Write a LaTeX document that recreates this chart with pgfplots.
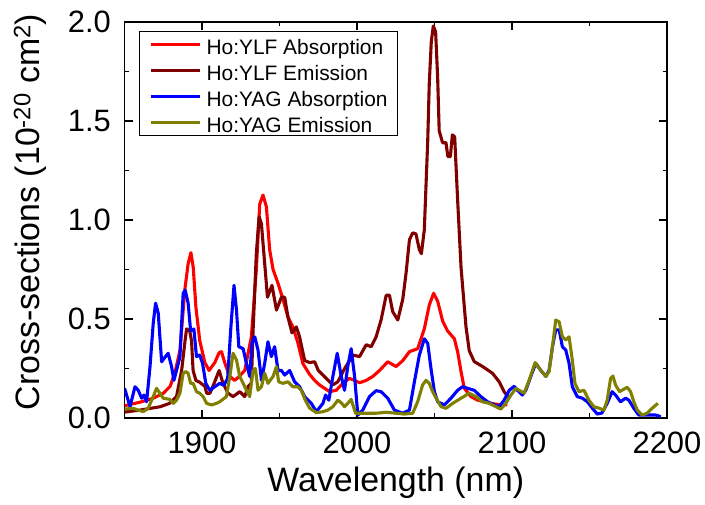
\documentclass[border=0pt]{standalone}
\usepackage{fontspec}
\setmainfont{Liberation Sans}
\usepackage{pgfplots}
\pgfplotsset{compat=1.18}
\definecolor{ylfabs}{RGB}{255,0,0}
\definecolor{ylfemi}{RGB}{128,0,0}
\definecolor{yagabs}{RGB}{0,0,255}
\definecolor{yagemi}{RGB}{128,128,0}
\begin{document}
\begin{tikzpicture}
\path[use as bounding box] (0,0) rectangle (705bp,505bp);
\begin{axis}[
  at={(124.6bp,87bp)}, anchor=south west,
  scale only axis, width=542.4bp, height=396bp,
  xmin=1850, xmax=2200, ymin=0, ymax=2.0,
  xtick={1900,2000,2100,2200}, minor x tick num=1,
  ytick={0,0.5,1,1.5,2}, minor y tick num=1,
  /pgf/number format/assume math mode=true,
  x tick label style={/pgf/number format/1000 sep={}, anchor=north, inner sep=0pt, yshift=-14bp},
  y tick label style={/pgf/number format/fixed, /pgf/number format/fixed zerofill, /pgf/number format/precision=1, anchor=east, inner sep=0pt, xshift=-13.5bp},
  tick label style={font=\fontsize{31}{37}\selectfont},
  xlabel={Wavelength (nm)},
  ylabel={Cross-sections (10\textsuperscript{-20} cm\textsuperscript{2})},
  xlabel style={font=\fontsize{34}{40}\selectfont, at={(axis description cs:0.5,-0.164)}, anchor=center},
  ylabel style={font=\fontsize{34}{40}\selectfont, at={(axis description cs:-0.1744,0.52)}, anchor=center},
  major tick length=8bp, minor tick length=4.5bp,
  axis line style={line width=1.2bp},
  every tick/.style={line width=1.2bp, black},
  legend cell align=left,
  legend image code/.code={\draw[#1] (0bp,0bp) -- (49bp,0bp);},
  legend style={at={(axis description cs:0.0266,0.977)}, anchor=north west,
    draw=black, line width=0.8bp, font=\fontsize{21}{25}\selectfont,
    inner xsep=10bp, inner ysep=3.5bp, row sep=7bp, column sep=5bp,
    nodes={inner sep=0pt, text height=19bp, text depth=0bp}},
  every axis plot/.append style={line width=3.1bp, line join=round},
]
\addplot[ylfabs] coordinates {
(1850,0.062)(1860,0.08)(1868.5,0.10)(1875,0.125)(1879.4,0.16)(1882.5,0.23)(1885.7,0.34)
(1888.9,0.65)(1891,0.78)(1892.8,0.835)(1894.3,0.76)(1896,0.56)(1898.5,0.39)(1901.8,0.28)
(1904.5,0.24)(1908.2,0.28)(1911,0.33)(1912.5,0.335)(1915,0.27)(1917.9,0.21)(1921,0.19)
(1924,0.21)(1927.5,0.24)(1931.8,0.41)(1935,0.75)(1937.2,1.08)(1939.3,1.126)(1941.5,1.067)
(1943.6,0.85)(1945.8,0.75)(1949,0.68)(1952.2,0.60)(1955.4,0.51)(1958.6,0.46)(1961.8,0.38)
(1965,0.276)(1969.4,0.22)(1972.6,0.19)(1975.8,0.167)(1982.3,0.133)(1986.6,0.14)(1990.8,0.175)
(1995.1,0.20)(1998.4,0.19)(2001.6,0.178)(2005.9,0.19)(2010.2,0.21)(2014.5,0.24)(2019.8,0.284)
(2025.2,0.26)(2029.5,0.29)(2033.8,0.335)(2039.1,0.35)(2043.4,0.45)(2046.6,0.57)(2049.4,0.63)
(2052,0.59)(2055.2,0.49)(2058.4,0.44)(2062.8,0.40)(2064.9,0.335)(2067.1,0.234)(2069.2,0.15)
(2073.5,0.108)(2077.8,0.09)(2086.4,0.074)(2092.8,0.066)(2097,0.066)
};
\addlegendentry{Ho:YLF Absorption}
\addplot[ylfemi] coordinates {
(1850,0.03)(1860,0.04)(1873,0.057)(1879,0.074)(1883.5,0.108)(1886.8,0.24)(1889,0.39)(1890,0.45)
(1892,0.44)(1893.2,0.39)(1894.2,0.24)(1896,0.19)(1898.5,0.18)(1901.8,0.16)(1903,0.125)(1905,0.125)
(1907,0.16)(1911,0.24)(1913.5,0.175)(1916.8,0.125)(1920,0.108)(1924.3,0.133)(1927.5,0.108)
(1929.7,0.16)(1931.8,0.175)(1932.9,0.44)(1935,0.83)(1936.8,1.017)(1938.3,0.98)(1940.4,0.78)
(1942.2,0.61)(1945.1,0.67)(1948,0.545)(1951.2,0.61)(1953.3,0.61)(1955.4,0.51)(1958,0.43)
(1960.8,0.46)(1962.9,0.41)(1966.2,0.29)(1969.4,0.28)(1972.6,0.284)(1975,0.24)(1980.1,0.20)
(1984.4,0.167)(1987.6,0.183)(1992,0.25)(1997.3,0.318)(2001.6,0.31)(2005.9,0.37)(2009.1,0.36)
(2012.3,0.41)(2015.5,0.495)(2018.8,0.62)(2020.9,0.62)(2023,0.537)(2026.3,0.495)(2029.5,0.6)
(2031.6,0.73)(2033.8,0.90)(2035.9,0.935)(2038,0.93)(2040.2,0.85)(2041.5,0.83)(2043.4,0.95)
(2045.6,1.40)(2046.6,1.69)(2047.9,1.90)(2049.2,1.98)(2050.7,1.95)(2052,1.72)(2053,1.45)
(2055.2,1.39)(2057.4,1.39)(2058.6,1.32)(2060.2,1.32)(2061.5,1.43)(2063,1.42)(2064.9,1.10)
(2067.1,0.76)(2070.3,0.46)(2072.4,0.34)(2075.6,0.285)(2081,0.26)(2087.4,0.226)(2091.7,0.183)
(2094.9,0.133)(2097.5,0.105)
};
\addlegendentry{Ho:YLF Emission}
\addplot[yagabs] coordinates {
(1850,0.15)(1853.5,0.057)(1856.7,0.158)(1858.8,0.14)(1861,0.10)(1862.5,0.116)(1864.2,0.082)
(1866.4,0.26)(1868.5,0.48)(1870,0.58)(1871.7,0.53)(1873.9,0.284)(1875.4,0.30)(1878.1,0.327)
(1880.3,0.26)(1881.8,0.19)(1883.5,0.24)(1885.7,0.31)(1887.8,0.63)(1889.1,0.646)(1891,0.58)
(1892.6,0.44)(1894.7,0.45)(1896.4,0.31)(1898.5,0.318)(1900.3,0.276)(1902.4,0.175)(1905,0.14)
(1908.2,0.158)(1911.4,0.175)(1914,0.165)(1916.5,0.20)(1918.5,0.45)(1920.6,0.67)(1922.2,0.545)
(1923.7,0.36)(1926.5,0.35)(1928.6,0.276)(1930.7,0.21)(1932.2,0.377)(1934,0.41)(1936.1,0.343)
(1938.3,0.19)(1940.4,0.276)(1942.5,0.385)(1944.7,0.31)(1946.8,0.36)(1949,0.24)(1951.2,0.24)
(1953.3,0.217)(1956.5,0.24)(1959.7,0.183)(1962.9,0.158)(1966.2,0.108)(1970.5,0.074)(1973.7,0.032)
(1978,0.074)(1979.7,0.116)(1981.8,0.09)(1984.4,0.21)(1987.2,0.327)(1989.8,0.21)(1991.9,0.14)
(1994,0.26)(1996.2,0.35)(1998.4,0.21)(2000.5,0.015)(2003.7,0.04)(2008,0.108)(2012.3,0.138)
(2015.5,0.133)(2019.8,0.10)(2024.1,0.04)(2029.5,0.024)(2033.8,0.04)(2037,0.183)(2040.2,0.318)
(2043.4,0.40)(2045.6,0.377)(2047.7,0.25)(2049.9,0.133)(2052,0.082)(2056.3,0.066)(2060.6,0.10)
(2064.9,0.14)(2068.1,0.158)(2071.3,0.15)(2075.6,0.14)(2079.9,0.108)(2084.2,0.082)(2088.5,0.066)
(2091.7,0.057)(2094.9,0.09)(2098.2,0.14)(2101.4,0.16)(2103.5,0.14)(2106.7,0.116)(2108.9,0.14)
(2112.1,0.21)(2115.3,0.276)(2118.6,0.24)(2121.8,0.21)(2123.9,0.24)(2126.1,0.36)(2128.2,0.445)
(2130.4,0.445)(2132.5,0.36)(2134.7,0.343)(2136.8,0.276)(2138.9,0.158)(2142.1,0.108)(2145.4,0.10)
(2148.6,0.082)(2151.8,0.05)(2155,0.02)(2158,0.025)(2161.4,0.074)(2164.6,0.133)(2166.8,0.116)
(2170,0.082)(2173.3,0.10)(2175.4,0.09)(2178.6,0.049)(2181.8,0.015)(2192.6,0.015)(2196,0.007)
};
\addlegendentry{Ho:YAG Absorption}
\addplot[yagemi] coordinates {
(1850,0.045)(1855.6,0.049)(1858.8,0.04)(1862,0.032)(1865.2,0.049)(1868.5,0.108)(1870.6,0.15)
(1872.8,0.125)(1874.9,0.10)(1879.2,0.094)(1881.4,0.074)(1883.5,0.09)(1885.7,0.125)(1887.8,0.226)
(1889.5,0.234)(1891,0.226)(1892.6,0.175)(1894.2,0.175)(1896.4,0.133)(1898.5,0.125)(1900.7,0.108)
(1902.9,0.074)(1906.1,0.066)(1909.3,0.074)(1911.4,0.082)(1915.7,0.108)(1917.9,0.21)(1920,0.327)
(1922.2,0.293)(1924.3,0.21)(1926.5,0.175)(1928.6,0.14)(1930.7,0.108)(1932.9,0.24)(1934.4,0.25)
(1936.1,0.14)(1938.3,0.158)(1940.4,0.226)(1942.5,0.175)(1945.8,0.21)(1948,0.26)(1949.4,0.183)
(1952.2,0.175)(1955.4,0.183)(1958.6,0.158)(1961.8,0.158)(1964,0.14)(1966.6,0.09)(1969.4,0.05)
(1973.7,0.027)(1978,0.032)(1981.2,0.04)(1984.4,0.057)(1987.6,0.09)(1989.8,0.077)(1991.9,0.057)
(1994,0.074)(1996.2,0.094)(1997.7,0.057)(1999,0.024)(2003.7,0.024)(2012.3,0.024)(2018.8,0.029)
(2025.2,0.024)(2030.5,0.02)(2035.9,0.024)(2039.1,0.082)(2042.3,0.167)(2044.5,0.19)(2046.6,0.175)
(2048.8,0.133)(2051,0.10)(2054.2,0.057)(2057.4,0.049)(2061.7,0.074)(2067.1,0.10)(2072.4,0.125)
(2076.7,0.108)(2081,0.082)(2085.3,0.074)(2089.6,0.057)(2092.8,0.045)(2096,0.074)(2099.3,0.116)
(2102.5,0.15)(2104.6,0.14)(2107.8,0.125)(2111,0.19)(2114.9,0.28)(2118.6,0.24)(2121.8,0.21)
(2123.9,0.234)(2126.1,0.36)(2128.2,0.495)(2130.4,0.486)(2132.5,0.41)(2134.7,0.394)(2136.8,0.41)
(2138.9,0.293)(2140.6,0.175)(2143.2,0.133)(2146.4,0.14)(2149.6,0.09)(2152.8,0.057)(2156,0.05)
(2159.3,0.04)(2161.4,0.09)(2163.6,0.20)(2165.1,0.212)(2166.8,0.167)(2169.4,0.133)(2172,0.145)
(2174.3,0.155)(2176.5,0.133)(2178.6,0.082)(2180.8,0.04)(2184,0.015)(2187.2,0.024)(2190.4,0.049)
(2194.1,0.074)
};
\addlegendentry{Ho:YAG Emission}
\end{axis}
\end{tikzpicture}
\end{document}
